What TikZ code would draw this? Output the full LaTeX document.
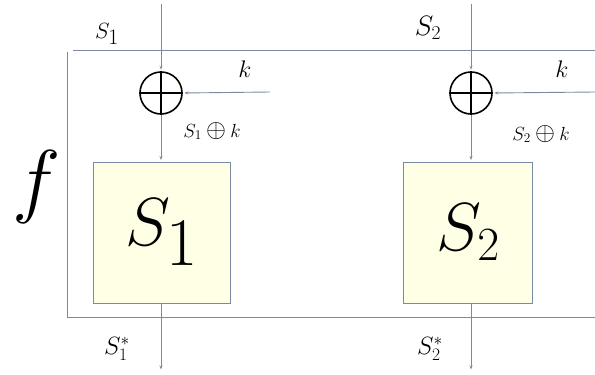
\documentclass[tikz,border=0pt]{standalone}
\usepackage{fix-cm}
\usetikzlibrary{arrows.meta, positioning}

\definecolor{wire}{RGB}{122,138,160}
\definecolor{sboxfill}{RGB}{255,255,230}

\newcommand{\fsz}[1]{\fontsize{#1}{#1}\selectfont}
\newcommand{\bigxor}{\mathbin{\scalebox{1.35}{$\oplus$}}}

\begin{document}
\begin{tikzpicture}[x=1pt, y=-1pt,
  wire/.style={draw=wire, line width=0.9pt},
  arr/.style={wire, -{Stealth[length=4pt,width=3pt]}, shorten >=1.5pt},
  xorgate/.style={circle, draw, line width=1.6pt, minimum size=42pt, inner sep=0pt},
  sbox/.style={draw=wire, line width=1pt, fill=sboxfill, minimum height=141pt,
               inner sep=0pt, font=\fsz{68}},
  lbl/.style={font=\fsz{22}, inner sep=0pt},
  small/.style={font=\fsz{19}, inner sep=0pt}]

  \useasboundingbox (0,0) rectangle (595,375);

  % frame of f
  \draw[wire] (73,50) -- (595,50);
  \draw[wire] (67,52) -- (67,317) -- (595,317);
  \node[font=\fsz{82}, inner sep=0pt] (f) at (37,187) {$f$};

  % xor gates and S-boxes
  \node[xorgate] (x1) at (161,93) {};
  \node[xorgate] (x2) at (471,93) {};
  \foreach \g in {x1,x2}
    \draw[line width=1.4pt] (\g.north) -- (\g.south) (\g.west) -- (\g.east);

  \node[sbox, minimum width=137pt] (sb1) at (161.5,232.5) {$S_{\textstyle 1}$};
  \node[sbox, minimum width=129pt] (sb2) at (468,232.5) {$S_2$};

  % free ends
  \coordinate (in1) at (161,4);
  \coordinate (in2) at (471,4);
  \coordinate (k1) at (270,92);
  \coordinate (k2) at (595,92);
  \coordinate (out1) at (161,371);
  \coordinate (out2) at (471,371);

  % connectors
  \draw[arr] (in1) -- (x1.north);
  \draw[arr] (in2) -- (x2.north);
  \draw[arr] (k1) -- (x1.east);
  \draw[arr] (k2) -- (x2.east);
  \draw[arr] (x1.south) -- (x1.south |- sb1.north);
  \draw[arr] (x2.south) -- (x2.south |- sb2.north);
  \draw[arr] (sb1.south -| out1) -- (out1);
  \draw[arr] (sb2.south -| out2) -- (out2);

  % labels
  \node[lbl] (s1in) at (107,34) {$S_{\textstyle 1}$};
  \node[lbl, font=\fsz{28}] (s2in) at (428,28) {$S_2$};
  \node[lbl, font=\fsz{24}] (k1lbl) at (245,69) {$k$};
  \node[lbl, font=\fsz{24}] (k2lbl) at (562,69) {$k$};
  \node[small] (s1k) at (212,131) {$S_1\bigxor k$};
  \node[small] (s2k) at (541,134) {$S_2\bigxor k$};
  \node[lbl, font=\fsz{25}] (s1out) at (117,349) {$S_1^*$};
  \node[lbl, font=\fsz{25}] (s2out) at (430,349) {$S_2^*$};
\end{tikzpicture}
\end{document}
